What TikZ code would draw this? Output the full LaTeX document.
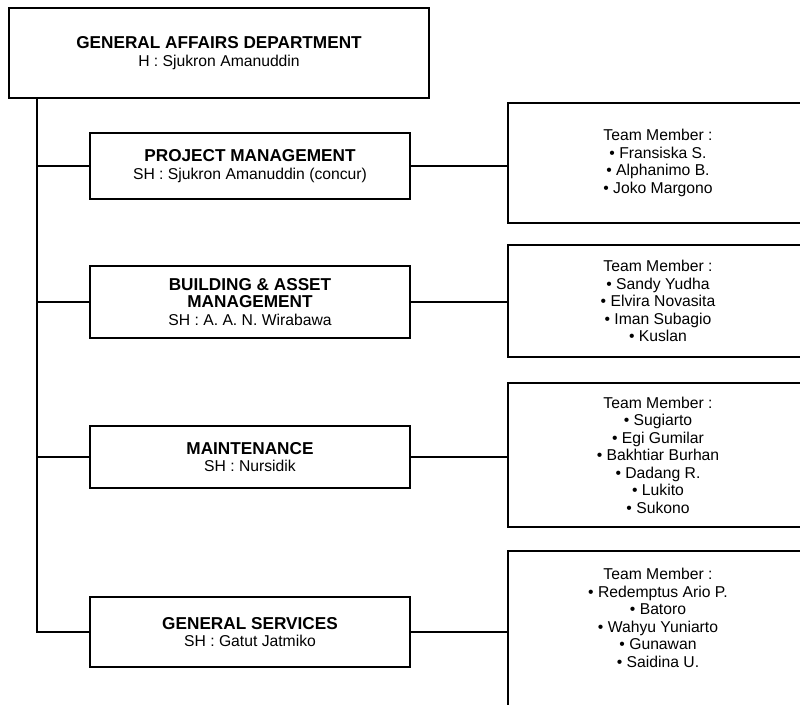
\documentclass[tikz,border=0pt]{standalone}
\usepackage{fontspec}
\setmainfont{Liberation Sans}
\newcommand\headtxt[1]{{\fontsize{17.2}{18}\selectfont\bfseries #1}}
\begin{document}
\begin{tikzpicture}[x=1pt,y=-1pt,
  line/.style={line width=1.4pt},
  box/.style={draw, line width=1.4pt, align=center, inner sep=0pt,
              font=\fontsize{15.7}{17.5}\selectfont},
  unitbox/.style={box, minimum width=320pt},
  teambox/.style={box, minimum width=300pt}]
\useasboundingbox (0,0) rectangle (800,704);
\clip (0,0) rectangle (800,704);

% head
\node[box, minimum width=420pt, minimum height=90pt] (gad) at (219,53)
  {\headtxt{GENERAL AFFAIRS DEPARTMENT}\\H : Sjukron Amanuddin};

% units
\node[unitbox, minimum height=66pt] (pm) at (250,166)
  {\headtxt{PROJECT MANAGEMENT}\\SH : Sjukron Amanuddin (concur)};
\node[unitbox, minimum height=72pt] (bam) at (250,302)
  {\headtxt{BUILDING \& ASSET}\\\headtxt{MANAGEMENT}\\SH : A. A. N. Wirabawa};
\node[unitbox, minimum height=62pt] (mnt) at (250,457)
  {\headtxt{MAINTENANCE}\\SH : Nursidik};
\node[unitbox, minimum height=70pt] (gs) at (250,632)
  {\headtxt{GENERAL SERVICES}\\SH : Gatut Jatmiko};

% teams
\node[teambox, minimum height=120pt] (t1) at (658,163)
  {Team Member :\\• Fransiska S.\\• Alphanimo B.\\• Joko Margono};
\node[teambox, minimum height=112pt] (t2) at (658,301)
  {Team Member :\\• Sandy Yudha\\• Elvira Novasita\\• Iman Subagio\\• Kuslan};
\node[teambox, minimum height=144pt] (t3) at (658,455)
  {Team Member :\\• Sugiarto\\• Egi Gumilar\\• Bakhtiar Burhan\\• Dadang R.\\• Lukito\\• Sukono};
\node[teambox, minimum height=170pt] (t4) at (658,636) {};
\node[align=center, inner sep=0pt, font=\fontsize{15.7}{17.5}\selectfont] (t4txt) at (658,618)
  {Team Member :\\• Redemptus Ario P.\\• Batoro\\• Wahyu Yuniarto\\• Gunawan\\• Saidina U.};

% trunk
\coordinate (trunk) at (37,98);
\draw[line] (trunk) |- (gs.west);
\draw[line] (trunk |- pm.west) -- (pm.west);
\draw[line] (trunk |- bam.west) -- (bam.west);
\draw[line] (trunk |- mnt.west) -- (mnt.west);

% unit to team
\draw[line] (pm.east) -- (pm.east -| t1.west);
\draw[line] (bam.east) -- (bam.east -| t2.west);
\draw[line] (mnt.east) -- (mnt.east -| t3.west);
\draw[line] (gs.east) -- (gs.east -| t4.west);
\end{tikzpicture}
\end{document}
